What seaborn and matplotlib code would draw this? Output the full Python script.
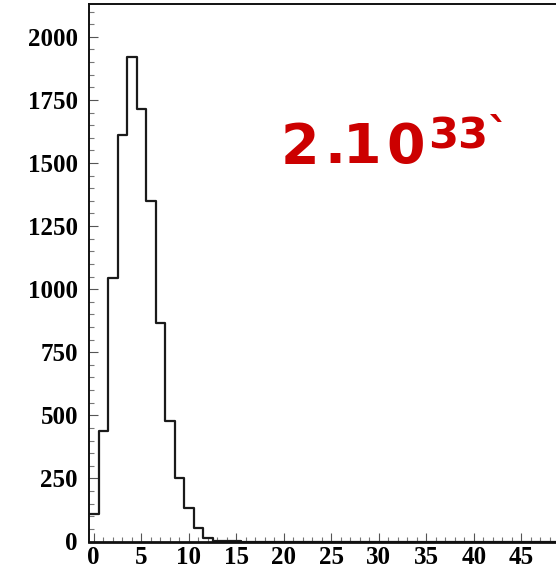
import numpy as np
import pandas as pd
import matplotlib
matplotlib.use("Agg")
import matplotlib.pyplot as plt
import seaborn as sns
from matplotlib.ticker import MultipleLocator

# Data: histogram bin centres and counts
bin_centres = list(range(0, 50))
counts = [110, 438, 1045, 1611, 1919, 1714, 1350, 864, 477, 250,
          134, 53, 15, 3, 2, 1] + [0] * 34
x_ticks = [0, 5, 10, 15, 20, 25, 30, 35, 40, 45]
y_ticks = [0, 250, 500, 750, 1000, 1250, 1500, 1750, 2000]
label_parts = ["2", ".", "1", "0"]
label_sup = "33`"

df = pd.DataFrame({"n": bin_centres, "count": counts})

sns.set_theme(style="white")
plt.rcParams["font.family"] = ["Liberation Serif", "DejaVu Serif"]

fig = plt.figure(figsize=(5.56, 5.73), dpi=100)
ax = fig.add_axes([89 / 556, (573 - 541.5) / 573, (564 - 89) / 556, (541.5 - 4) / 573])

sns.histplot(data=df, x="n", weights="count", discrete=True, element="step",
             fill=False, color="#1a1a1a", linewidth=1.6, ax=ax)

ax.set_xlim(-0.5, 49.5)
ax.set_ylim(0, 2130)
ax.set_xticks(x_ticks)
ax.set_yticks(y_ticks)
ax.xaxis.set_minor_locator(MultipleLocator(1))
ax.yaxis.set_minor_locator(MultipleLocator(50))
ax.set_xlabel("")
ax.set_ylabel("")

for s in ["left", "bottom", "top"]:
    ax.spines[s].set_visible(True)
    ax.spines[s].set_color("#111111")
ax.spines["left"].set_linewidth(1.4)
ax.spines["top"].set_linewidth(1.4)
ax.spines["bottom"].set_linewidth(2.0)
ax.spines["right"].set_visible(False)

ax.tick_params(which="major", direction="in", length=6.5, width=0.8, color="#555555",
               labelsize=18, pad=8, bottom=True, left=True)
ax.tick_params(which="minor", direction="in", length=3.6, width=0.8, color="#777777",
               bottom=True, left=True)
ax.tick_params(axis="x", which="major", pad=3)
for lab in ax.get_xticklabels() + ax.get_yticklabels():
    lab.set_fontweight("bold")
    lab.set_color("black")

red = "#cc0000"
for part, px in zip(label_parts, [281, 324, 343, 386]):
    fig.text(px / 556, (573 - 163) / 573, part, fontsize=40, fontweight="bold",
             color=red, family="DejaVu Sans", ha="left", va="baseline")
fig.text(428 / 556, (573 - 148) / 573, label_sup, fontsize=31, fontweight="bold",
         color=red, family="DejaVu Sans", ha="left", va="baseline")

fig.savefig("out.png", dpi=100)
